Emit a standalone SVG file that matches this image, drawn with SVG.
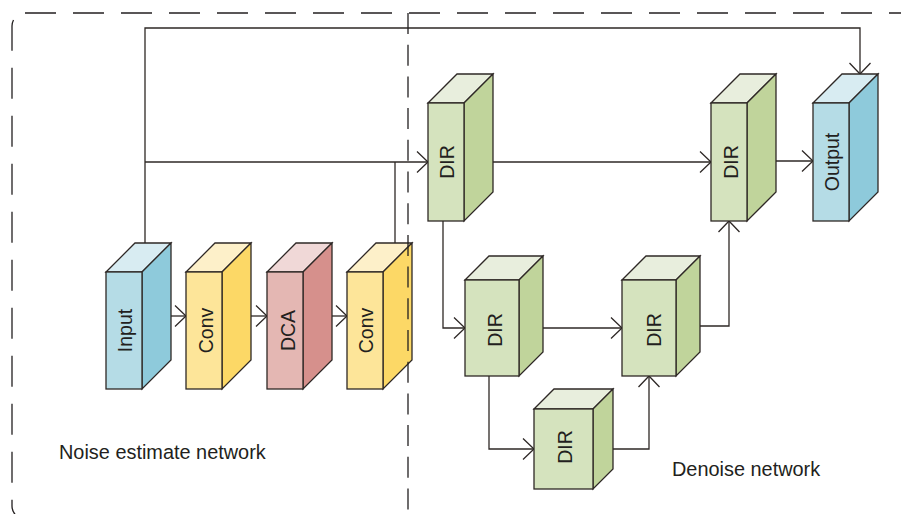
<svg xmlns="http://www.w3.org/2000/svg" width="901" height="514" viewBox="0 0 901 514">
<defs>
<style>
.f{stroke:#2e2826;stroke-width:1.3;stroke-linejoin:miter}
.bf{fill:#b5dce6}.bt{fill:#d8ecf2}.br{fill:#8ecadb}
.yf{fill:#fde599}.yt{fill:#fdf0c9}.yr{fill:#fcd866}
.rf{fill:#e4b7b3}.rt{fill:#f0d8d7}.rr{fill:#d6908c}
.gf{fill:#d5e3be}.gt{fill:#e8eedd}.gr{fill:#c0d49b}
.lbl{font-family:"Liberation Sans",Arial,sans-serif;font-size:19.5px;fill:#231f20;text-anchor:middle}
.cap{font-family:"Liberation Sans",Arial,sans-serif;font-size:19.9px;fill:#231f20}
.ln{fill:none;stroke:#2e2826;stroke-width:1.3}
.dash{fill:none;stroke:#231f20;stroke-width:1.3}
</style>
<marker id="ah" viewBox="-13 -13 16 26" markerWidth="16" markerHeight="26" refX="0" refY="0" orient="auto" markerUnits="userSpaceOnUse">
<path d="M-11,-10.5 L0,0 L-11,10.5" fill="none" stroke="#2e2826" stroke-width="1.3"/>
</marker>
</defs>

<g id="frame">
<path class="dash" d="M25,13 H901" stroke-dasharray="31 17"/>
<path class="dash" d="M25,13 A13 13 0 0 0 12 26 V506 A13 13 0 0 0 25 519" stroke-dasharray="31 17" stroke-dashoffset="-14"/>
</g>

<g id="connectors">
<path class="ln" d="M145,243 V28 H860 V74" marker-end="url(#ah)"/>
<path class="ln" d="M145,162 H428" marker-end="url(#ah)"/>
<path class="ln" d="M395,243 V162"/>
<path class="ln" d="M493,162 H711" marker-end="url(#ah)"/>
<path class="ln" d="M776,161 H813" marker-end="url(#ah)"/>
<path class="ln" d="M443,221 V328 H465" marker-end="url(#ah)"/>
<path class="ln" d="M543,328 H622" marker-end="url(#ah)"/>
<path class="ln" d="M489,376 V449 H534" marker-end="url(#ah)"/>
<path class="ln" d="M613,449 H649 V376" marker-end="url(#ah)"/>
<path class="ln" d="M700,326 H729 V221" marker-end="url(#ah)"/>
<path class="ln" d="M171,316 H186" marker-end="url(#ah)"/>
<path class="ln" d="M251,316 H267" marker-end="url(#ah)"/>
<path class="ln" d="M332,316 H347" marker-end="url(#ah)"/>
</g>

<g id="input">
<polygon class="f bt" points="106,272 135,243 171,243 142,272"/>
<polygon class="f br" points="142,272 171,243 171,360 142,389"/>
<rect class="f bf" x="106" y="272" width="36" height="117"/>
<text class="lbl" transform="translate(132,330.5) rotate(-90)">Input</text>
</g>

<g id="conv1">
<polygon class="f yt" points="186,272 215,243 251,243 222,272"/>
<polygon class="f yr" points="222,272 251,243 251,360 222,389"/>
<rect class="f yf" x="186" y="272" width="36" height="117"/>
<text class="lbl" transform="translate(212.5,330.5) rotate(-90)">Conv</text>
</g>

<g id="dca">
<polygon class="f rt" points="267,272 296,243 332,243 303,272"/>
<polygon class="f rr" points="303,272 332,243 332,360 303,389"/>
<rect class="f rf" x="267" y="272" width="36" height="117"/>
<text class="lbl" transform="translate(294.5,330.5) rotate(-90)">DCA</text>
</g>

<g id="conv2">
<polygon class="f yt" points="347,272 376,243 412,243 383,272"/>
<polygon class="f yr" points="383,272 412,243 412,360 383,389"/>
<rect class="f yf" x="347" y="272" width="36" height="117"/>
<text class="lbl" transform="translate(373,330.5) rotate(-90)">Conv</text>
</g>

<g id="dir1">
<polygon class="f gt" points="428,103 457,74 493,74 464,103"/>
<polygon class="f gr" points="464,103 493,74 493,192 464,221"/>
<rect class="f gf" x="428" y="103" width="36" height="118"/>
<text class="lbl" transform="translate(454,162) rotate(-90)">DIR</text>
</g>

<g id="dir5">
<polygon class="f gt" points="711,103 740,74 776,74 747,103"/>
<polygon class="f gr" points="747,103 776,74 776,192 747,221"/>
<rect class="f gf" x="711" y="103" width="36" height="118"/>
<text class="lbl" transform="translate(738,162) rotate(-90)">DIR</text>
</g>

<g id="output">
<polygon class="f bt" points="813,103 842,74 878,74 849,103"/>
<polygon class="f br" points="849,103 878,74 878,192 849,221"/>
<rect class="f bf" x="813" y="103" width="36" height="118"/>
<text class="lbl" transform="translate(839,162) rotate(-90)">Output</text>
</g>

<g id="dir2">
<polygon class="f gt" points="465,280 489,256 543,256 519,280"/>
<polygon class="f gr" points="519,280 543,256 543,352 519,376"/>
<rect class="f gf" x="465" y="280" width="54" height="96"/>
<text class="lbl" transform="translate(501.5,330) rotate(-90)">DIR</text>
</g>

<g id="dir3">
<polygon class="f gt" points="622,280 646,256 700,256 676,280"/>
<polygon class="f gr" points="676,280 700,256 700,352 676,376"/>
<rect class="f gf" x="622" y="280" width="54" height="96"/>
<text class="lbl" transform="translate(660.5,330) rotate(-90)">DIR</text>
</g>

<g id="dir4">
<polygon class="f gt" points="534,409 554,389 613,389 593,409"/>
<polygon class="f gr" points="593,409 613,389 613,469 593,489"/>
<rect class="f gf" x="534" y="409" width="59" height="80"/>
<text class="lbl" transform="translate(572,447) rotate(-90)">DIR</text>
</g>

<g id="divider">
<path class="dash" d="M408,13 V514" stroke-dasharray="21 10.7"/>
</g>

<g id="captions">
<text class="cap" x="59" y="459">Noise estimate network</text>
<text class="cap" x="672" y="476">Denoise network</text>
</g>
</svg>
